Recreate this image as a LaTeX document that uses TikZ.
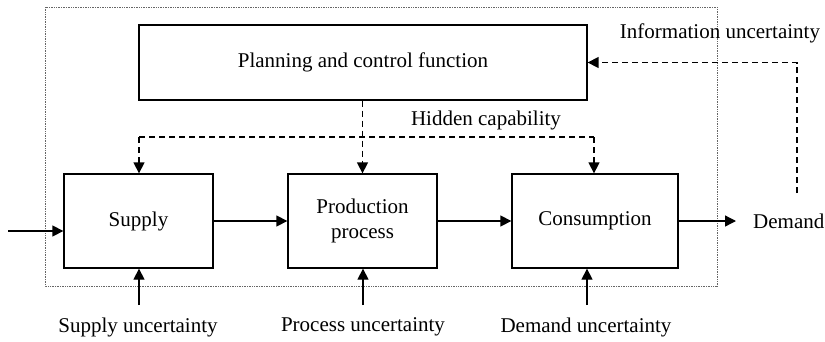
\documentclass[tikz,border=0pt]{standalone}
\usepackage{fontspec}
\setmainfont{Liberation Serif}
\usetikzlibrary{arrows.meta}
\tikzset{
  blk/.style={draw, line width=1.3pt, align=center, inner sep=2pt},
  lbl/.style={inner sep=1pt},
  tip/.style={-{Triangle[length=11pt,width=11pt]}},
  arr/.style={line width=1.3pt, tip},
  dline/.style={line width=1.4pt, dash pattern=on 6pt off 4pt},
  darr/.style={dline, tip},
  frame/.style={draw=black!60, line width=0.8pt, dash pattern=on 0.8pt off 0.9pt}
}
\begin{document}
\begin{tikzpicture}[x=1pt,y=-1pt, font=\fontsize{21}{25}\selectfont]
\useasboundingbox (0,0) rectangle (825,341);

% system boundary
\draw[frame] (45,7) rectangle (717,286);

% blocks
\node[blk, minimum width=448pt, minimum height=75pt] (plan) at (363,62.5) {Planning and control function};
\node[blk, minimum width=149pt, minimum height=94pt] (supply) at (138.5,221) {Supply};
\node[blk, minimum width=149pt, minimum height=94pt] (prod) at (362.5,221) {Production\\process};
\node[blk, minimum width=166pt, minimum height=94pt] (cons) at (595,221) {Consumption};

% labels
\node[lbl] (info) at (720,33) {Information uncertainty};
\node[lbl] (hidden) at (486,120) {Hidden capability};
\node[lbl, anchor=west] (demand) at (752,221) {Demand};
\node[lbl] (su) at (138,327) {Supply uncertainty};
\node[lbl] (pu) at (363,327) {Process uncertainty};
\node[lbl] (du) at (586,327) {Demand uncertainty};

% material flow
\coordinate (in) at (8,231);
\draw[arr] (in) -- (in -| supply.west);
\draw[arr] (supply.east) -- (prod.west);
\draw[arr] (prod.east) -- (cons.west);
\draw[arr] (cons.east) -- ([xshift=-16pt]demand.west);

% hidden capability distribution
\coordinate (hl) at (139,137);
\coordinate (hr) at (594,137);
\draw[dline] (hl) -- (hr);
\draw[darr] (plan.south -| prod.north) -- (prod.north);
\draw[darr] (hl) -- (hl |- supply.north);
\draw[darr] (hr) -- (hr |- cons.north);

% information feedback
\coordinate (ib) at (797,193);
\draw[darr] (ib) |- (plan.east);

% uncertainties
\coordinate (sb) at (139,305);
\coordinate (pb) at (363,305);
\coordinate (db) at (587,305);
\draw[arr] (sb) -- (sb |- supply.south);
\draw[arr] (pb) -- (pb |- prod.south);
\draw[arr] (db) -- (db |- cons.south);
\end{tikzpicture}
\end{document}
